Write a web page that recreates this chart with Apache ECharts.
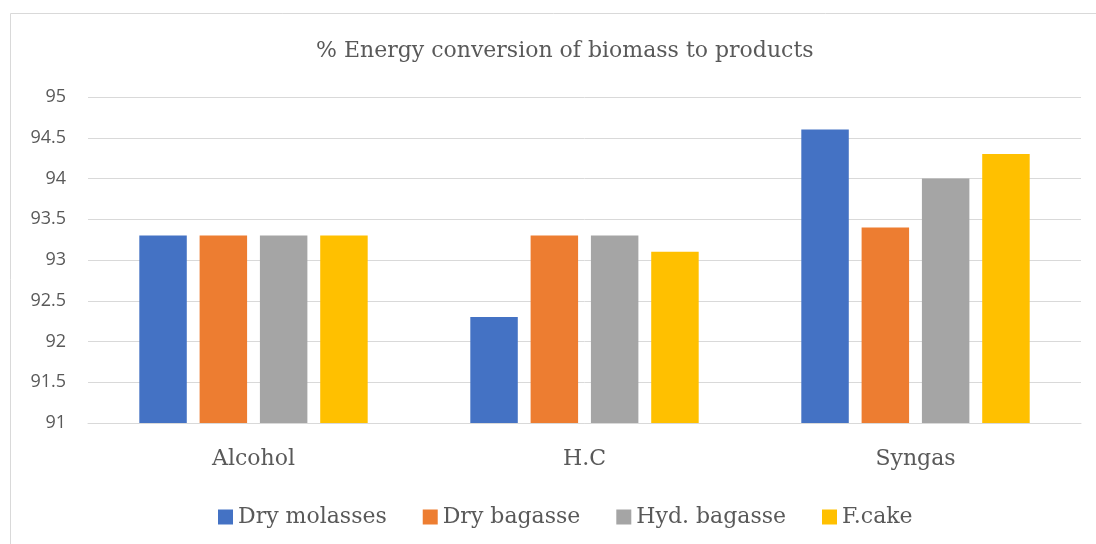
<!DOCTYPE html>
<html>
<head>
<meta charset="utf-8">
<script src="https://cdn.jsdelivr.net/npm/echarts@6/dist/echarts.min.js"></script>
<style>
  html, body { margin: 0; padding: 0; background: #fff; }
  #chart { width: 1096px; height: 544px; }
</style>
</head>
<body>
<div id="chart"></div>
<script>
const categories = ["Alcohol", "H.C", "Syngas"];
const seriesNames = ["Dry molasses", "Dry bagasse", "Hyd. bagasse", "F.cake"];
const dryMolasses = [93.3, 92.3, 94.6];
const dryBagasse = [93.3, 93.3, 93.4];
const hydBagasse = [93.3, 93.3, 94.0];
const fCake = [93.3, 93.1, 94.3];
const colors = ["#4472C4", "#ED7D31", "#A5A5A5", "#FFC000"];

const serif = "'DejaVu Serif', serif";
const chart = echarts.init(document.getElementById("chart"));

const option = {
  animation: false,
  color: colors,
  title: {
    text: "% Energy conversion of biomass to products",
    left: 311,
    top: 35,
    textStyle: { fontFamily: serif, fontSize: 22, fontWeight: "normal", color: "#595959" },
  },
  graphic: [
    {
      type: "rect",
      shape: { x: 10.5, y: 13.5, width: 1100, height: 560 },
      style: { fill: "none", stroke: "#D9D9D9", lineWidth: 1 },
      silent: true,
    },
  ],
  legend: {
    bottom: 11,
    left: 213,
    itemWidth: 15,
    itemHeight: 15,
    itemGap: 36,
    icon: "rect",
    textStyle: { fontFamily: serif, fontSize: 22, color: "#595959" },
    data: seriesNames,
  },
  grid: { left: 88, right: 15, top: 97, bottom: 121, containLabel: false },
  xAxis: {
    type: "category",
    data: categories,
    axisLine: { lineStyle: { color: "#D9D9D9" } },
    axisTick: { show: false },
    axisLabel: { fontFamily: serif, fontSize: 22, color: "#595959", margin: 25 },
  },
  yAxis: {
    type: "value",
    min: 91,
    max: 95,
    interval: 0.5,
    axisLine: { show: false },
    axisTick: { show: false },
    splitLine: { lineStyle: { color: "#D9D9D9", width: 1 } },
    axisLabel: { fontFamily: "'Open Sans', sans-serif", fontSize: 18, color: "#595959", margin: 22 },
  },
  series: [
    { name: seriesNames[0], type: "bar", data: dryMolasses, barGap: "27%", barCategoryGap: "31%" },
    { name: seriesNames[1], type: "bar", data: dryBagasse },
    { name: seriesNames[2], type: "bar", data: hydBagasse },
    { name: seriesNames[3], type: "bar", data: fCake },
  ],
};

chart.setOption(option);
window.addEventListener("resize", () => chart.resize());
</script>
</body>
</html>
